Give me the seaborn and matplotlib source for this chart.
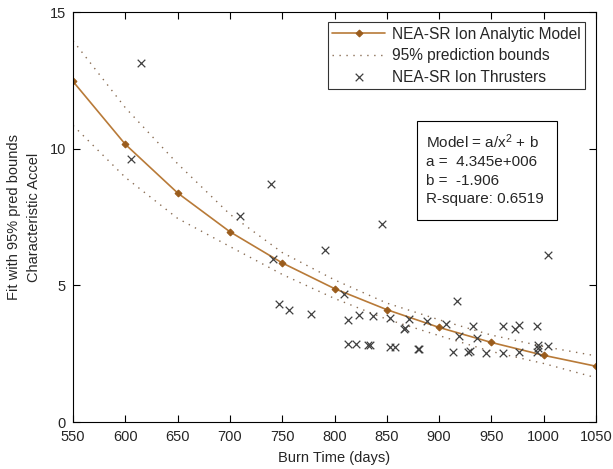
import matplotlib
matplotlib.use("Agg")
import matplotlib.pyplot as plt
import matplotlib.patches as mpatches
import seaborn as sns
import numpy as np
import pandas as pd

# ---- data ----
model_x = [550, 600, 650, 700, 750, 800, 850, 900, 950, 1000, 1050]
model_y = [12.46, 10.16, 8.38, 6.96, 5.82, 4.88, 4.11, 3.46, 2.91, 2.44, 2.04]
upper_y = [13.95, 11.50, 9.45, 7.60, 6.20, 5.20, 4.35, 3.74, 3.18, 2.76, 2.42]
lower_y = [10.85, 8.95, 7.45, 6.42, 5.40, 4.52, 3.76, 3.16, 2.58, 2.14, 1.62]

thr_x = [605.5, 615, 710, 739, 741.5, 747, 756.5, 777.5, 791, 809.4, 813, 813,
         821, 823, 832, 833.5, 837, 845, 853, 853, 858, 866, 867.5, 871, 879.5,
         881, 888.7, 907, 913, 916.8, 919.3, 928, 930, 932.7, 936, 944.8, 960.8,
         960.8, 972.6, 976.7, 976.7, 993.9, 993.3, 995, 995, 1004.4, 1004.4]
thr_y = [9.62, 13.15, 7.54, 8.70, 5.97, 4.30, 4.11, 3.94, 6.28, 4.67, 3.72, 2.85,
         2.85, 3.91, 2.80, 2.80, 3.87, 7.25, 3.81, 2.75, 2.75, 3.42, 3.44, 3.76, 2.66,
         2.66, 3.69, 3.60, 2.57, 4.43, 3.16, 2.57, 2.60, 3.50, 3.07, 2.53, 3.50,
         2.53, 3.42, 3.54, 2.55, 3.50, 2.57, 2.70, 2.80, 2.79, 6.11]

x_ticks = [550, 600, 650, 700, 750, 800, 850, 900, 950, 1000, 1050]
y_ticks = [0, 5, 10, 15]

legend_labels = ["NEA-SR Ion Analytic Model", "95% prediction bounds", "NEA-SR Ion Thrusters"]
fit_text = ["Model = a/x$^{2}$ + b", "a =  4.345e+006", "b =  -1.906", "R-square: 0.6519"]

# ---- styling ----
sns.set_style("ticks")
plt.rcParams["font.family"] = ["Liberation Sans", "DejaVu Sans"]
plt.rcParams["mathtext.default"] = "regular"
plt.rcParams["xtick.direction"] = "in"
plt.rcParams["ytick.direction"] = "in"

fig = plt.figure(figsize=(6.13, 4.69), dpi=100)
ax = fig.add_axes([73/613, 47/469, 523/613, 410/469])

model_df = pd.DataFrame({"x": model_x, "y": model_y})
bounds_df = pd.DataFrame({"x": model_x, "upper": upper_y, "lower": lower_y})
thr_df = pd.DataFrame({"x": thr_x, "y": thr_y})

line_col = "#b87a38"
mark_col = "#9a5c1c"
bound_col = "#8a6e55"

sns.lineplot(data=bounds_df, x="x", y="upper", ax=ax, color=bound_col,
             linestyle=(0, (1, 4)), linewidth=1.0, label=legend_labels[1])
sns.lineplot(data=bounds_df, x="x", y="lower", ax=ax, color=bound_col,
             linestyle=(0, (1, 4)), linewidth=1.0, label="_nolegend_")
sns.lineplot(data=model_df, x="x", y="y", ax=ax, color=line_col, linewidth=1.2,
             marker="D", markersize=3.5, markerfacecolor=mark_col,
             markeredgecolor=mark_col, label=legend_labels[0])
sns.scatterplot(data=thr_df, x="x", y="y", ax=ax, marker="x", s=30,
                color="#404040", linewidth=0.9, label=legend_labels[2], zorder=3)

ax.set_xlim(550, 1050)
ax.set_ylim(0, 15)
ax.set_xticks(x_ticks)
ax.set_yticks(y_ticks)
ax.tick_params(axis="both", which="both", top=True, right=True, length=5,
               width=0.8, labelsize=10.5, color="black")
ax.tick_params(axis="x", pad=6)
ax.tick_params(axis="y", pad=5)
for s in ax.spines.values():
    s.set_visible(True)
    s.set_color("black")
    s.set_linewidth(0.8)

ax.set_xlabel("Burn Time (days)", fontsize=10.5)
ax.xaxis.set_label_coords(0.5, -0.071)
ax.set_ylabel("Fit with 95% pred bounds\nCharacteristic Accel", fontsize=10.5,
              linespacing=1.55, va="center")
ax.yaxis.set_label_coords(-0.094, 0.5)

# legend
h, l = ax.get_legend_handles_labels()
order = [l.index(t) for t in legend_labels]
leg = ax.legend([h[i] for i in order], [l[i] for i in order],
                loc="upper right", bbox_to_anchor=(0.979, 0.976),
                borderaxespad=0, fontsize=11.2, frameon=True, fancybox=False,
                edgecolor="black", handlelength=3.4, handletextpad=0.4,
                borderpad=0.3, labelspacing=0.42)
leg.get_frame().set_linewidth(0.8)

# fit info box
rect = mpatches.Rectangle((0.658, 0.493), 0.268, 0.241, transform=ax.transAxes,
                          facecolor="white", edgecolor="black", linewidth=0.8, zorder=5)
ax.add_patch(rect)
for txt, yy in zip(fit_text, [0.683, 0.634, 0.587, 0.543]):
    ax.text(0.675, yy, txt, transform=ax.transAxes, fontsize=11, va="center",
            ha="left", zorder=6)

fig.savefig("out.png", dpi=100)
